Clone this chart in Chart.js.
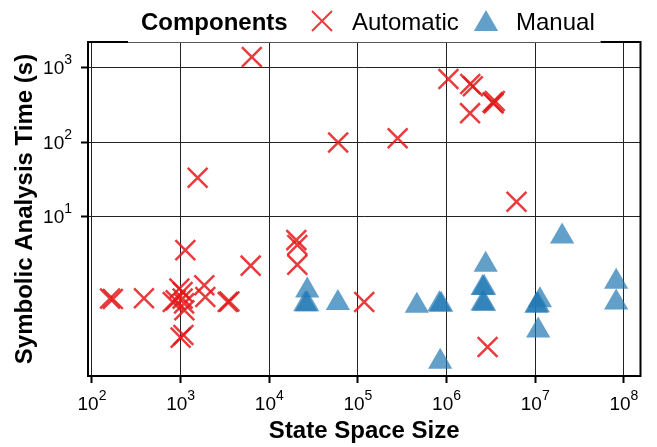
<!DOCTYPE html>
<html>
<head>
<meta charset="utf-8">
<title>Symbolic Analysis Time vs State Space Size</title>
<script src="https://cdn.jsdelivr.net/npm/chart.js@4.4.1/dist/chart.umd.min.js"></script>
<style>
body { margin: 0; background: #fff; }
</style>
</head>
<body>
<canvas id="scatterChart" width="657" height="447"></canvas>
<script>
// values (state space size, seconds)
var automaticSize = [160, 172, 386, 1130, 968, 815, 1054, 1102, 1000, 1075, 1849, 1897, 3400, 3550, 6170,
    20180, 20700, 20700, 117800, 1556, 6350, 59800, 280600, 1.05e6, 1.85e6, 1.98e6, 3.3e6, 3.5e6, 3.4e6,
    1.84e6, 6.15e6, 2.9e6, 1052, 880, 1094];
var automaticTime = [0.80, 0.79, 0.81, 3.57, 1.09, 0.72, 0.80, 0.56, 0.24, 0.26, 1.21, 0.84, 0.72, 0.73, 2.21,
    4.86, 4.17, 2.28, 0.72, 33.3, 1380, 98.4, 112.7, 698, 600, 560, 340, 355, 330,
    244, 15.9, 0.18, 0.98, 0.76, 0.69];

var manualSize = [26800, 26800, 25500, 59400, 462000, 830000, 870000, 847000, 2.76e6, 2.55e6, 2.65e6,
    2.55e6, 2.65e6, 2.01e7, 1.13e7, 1.03e7, 1.07e7, 1.08e7, 8.18e7, 8.18e7];
var manualTime = [1.03, 0.67, 0.67, 0.70, 0.64, 0.67, 0.66, 0.114, 2.27, 1.11, 1.12,
    0.69, 0.68, 5.45, 0.76, 0.64, 0.65, 0.298, 1.35, 0.71];

var seriesNames = ['Automatic', 'Manual'];
var legendTitle = 'Components';
var xTickValues = [1e2, 1e3, 1e4, 1e5, 1e6, 1e7, 1e8];
var yTickValues = [1e1, 1e2, 1e3];

var fontFamily = '"Liberation Sans", Arial, Helvetica, sans-serif';
var redColor = 'rgba(228, 26, 28, 0.85)';
var blueColor = 'rgba(31, 119, 180, 0.7)';

function toPoints(xs, ys) {
    return xs.map(function (x, i) { return { x: x, y: ys[i] }; });
}

function exponentOf(value) {
    return String(Math.round(Math.log10(value)));
}

// "10" with a raised exponent, like the matplotlib mathtext labels
function drawPower(ctx, value, x, baseline, align) {
    var exp = exponentOf(value);
    var baseFont = '19px ' + fontFamily;
    var expFont = '14px ' + fontFamily;
    ctx.font = baseFont;
    var w1 = ctx.measureText('10').width;
    ctx.font = expFont;
    var w2 = ctx.measureText(exp).width;
    var left = align === 'center' ? x - (w1 + w2) / 2 : x - w1 - w2;
    ctx.textAlign = 'left';
    ctx.font = baseFont;
    ctx.fillText('10', left, baseline);
    ctx.font = expFont;
    ctx.fillText(exp, left + w1, baseline - 10);
}

function crossPath(ctx, x, y, half) {
    ctx.beginPath();
    ctx.moveTo(x - half, y - half); ctx.lineTo(x + half, y + half);
    ctx.moveTo(x + half, y - half); ctx.lineTo(x - half, y + half);
    ctx.stroke();
}

function trianglePath(ctx, x, y, r) {
    ctx.beginPath();
    ctx.moveTo(x, y - r);
    ctx.lineTo(x + r * 0.866, y + r * 0.5);
    ctx.lineTo(x - r * 0.866, y + r * 0.5);
    ctx.closePath();
    ctx.fill();
}

var powerTickLabels = {
    id: 'powerTickLabels',
    afterDraw: function (chart) {
        var ctx = chart.ctx;
        var xs = chart.scales.x;
        var ys = chart.scales.y;
        ctx.save();
        ctx.fillStyle = '#000';
        ctx.textBaseline = 'alphabetic';
        xs.ticks.forEach(function (t) {
            drawPower(ctx, t.value, xs.getPixelForValue(t.value), 410, 'center');
        });
        ys.ticks.forEach(function (t) {
            drawPower(ctx, t.value, 72, ys.getPixelForValue(t.value) + 6.5, 'right');
        });
        ctx.restore();
    }
};

// legend sits on one line above the plot, title in bold on the left
var inlineLegend = {
    id: 'inlineLegend',
    afterDraw: function (chart) {
        var ctx = chart.ctx;
        ctx.save();
        ctx.fillStyle = '#000';
        ctx.textBaseline = 'alphabetic';
        ctx.font = 'bold 24px ' + fontFamily;
        ctx.fillText(legendTitle, 141, 30);
        ctx.strokeStyle = redColor;
        ctx.lineWidth = 2;
        crossPath(ctx, 322, 21, 10);
        ctx.fillStyle = '#000';
        ctx.font = '24px ' + fontFamily;
        ctx.fillText(seriesNames[0], 352, 30);
        ctx.fillStyle = blueColor;
        trianglePath(ctx, 486, 24, 14);
        ctx.fillStyle = '#000';
        ctx.fillText(seriesNames[1], 516, 30);
        ctx.restore();
    }
};

// top and right spines (left/bottom come from the axes)
var frameLines = {
    id: 'frameLines',
    afterDraw: function (chart) {
        var a = chart.chartArea;
        var ctx = chart.ctx;
        ctx.save();
        ctx.strokeStyle = '#000';
        ctx.lineWidth = 2;
        ctx.beginPath();
        ctx.moveTo(a.right, a.top - 1);
        ctx.lineTo(a.right, a.bottom + 1);
        ctx.moveTo(a.left - 1, a.top);
        ctx.lineTo(a.left + 40, a.top);
        ctx.moveTo(a.right - 40, a.top);
        ctx.lineTo(a.right + 1, a.top);
        ctx.stroke();
        ctx.strokeStyle = '#555';
        ctx.lineWidth = 1;
        ctx.beginPath();
        ctx.moveTo(a.left + 40, a.top + 0.5);
        ctx.lineTo(a.right - 40, a.top + 0.5);
        ctx.stroke();
        ctx.restore();
    }
};

function createScatter(canvasId) {
    var config = {
        type: 'scatter',
        data: {
            datasets: [{
                label: seriesNames[0],
                data: toPoints(automaticSize, automaticTime),
                pointStyle: 'crossRot',
                radius: 14,
                hoverRadius: 14,
                borderWidth: 2.5,
                borderColor: redColor,
                backgroundColor: redColor
            }, {
                label: seriesNames[1],
                data: toPoints(manualSize, manualTime),
                pointStyle: 'triangle',
                radius: 14,
                hoverRadius: 14,
                borderWidth: 0,
                borderColor: blueColor,
                backgroundColor: blueColor
            }]
        },
        options: {
            responsive: false,
            animation: false,
            layout: { padding: { top: 42, right: 14, left: 0, bottom: 0 } },
            plugins: {
                legend: { display: false },
                tooltip: { enabled: false }
            },
            scales: {
                x: {
                    type: 'logarithmic',
                    min: 90.2,
                    max: 1.54e8,
                    afterBuildTicks: function (scale) {
                        scale.ticks = xTickValues.map(function (v) { return { value: v }; });
                    },
                    afterFit: function (scale) { scale.height = 71; },
                    ticks: { display: false },
                    grid: { color: '#222', lineWidth: 1, tickLength: 7, tickWidth: 2, tickColor: '#000' },
                    border: { color: '#000', width: 2 },
                    title: {
                        display: true,
                        text: 'State Space Size',
                        color: '#000',
                        font: { family: fontFamily, size: 24, weight: 'bold' },
                        padding: { top: 0, bottom: 1 }
                    }
                },
                y: {
                    type: 'logarithmic',
                    min: 0.0735,
                    max: 2190,
                    afterBuildTicks: function (scale) {
                        scale.ticks = yTickValues.map(function (v) { return { value: v }; });
                    },
                    afterFit: function (scale) { scale.width = 88; },
                    ticks: { display: false },
                    grid: { color: '#222', lineWidth: 1, tickLength: 7, tickWidth: 2, tickColor: '#000' },
                    border: { color: '#000', width: 2 },
                    title: {
                        display: true,
                        text: 'Symbolic Analysis Time (s)',
                        color: '#000',
                        font: { family: fontFamily, size: 24, weight: 'bold' },
                        padding: { top: 11, bottom: 0 }
                    }
                }
            }
        },
        plugins: [frameLines, powerTickLabels, inlineLegend]
    };

    var ctx = document.getElementById(canvasId).getContext('2d');
    window.scatterChart = new Chart(ctx, config);
}

createScatter('scatterChart');
</script>
</body>
</html>
